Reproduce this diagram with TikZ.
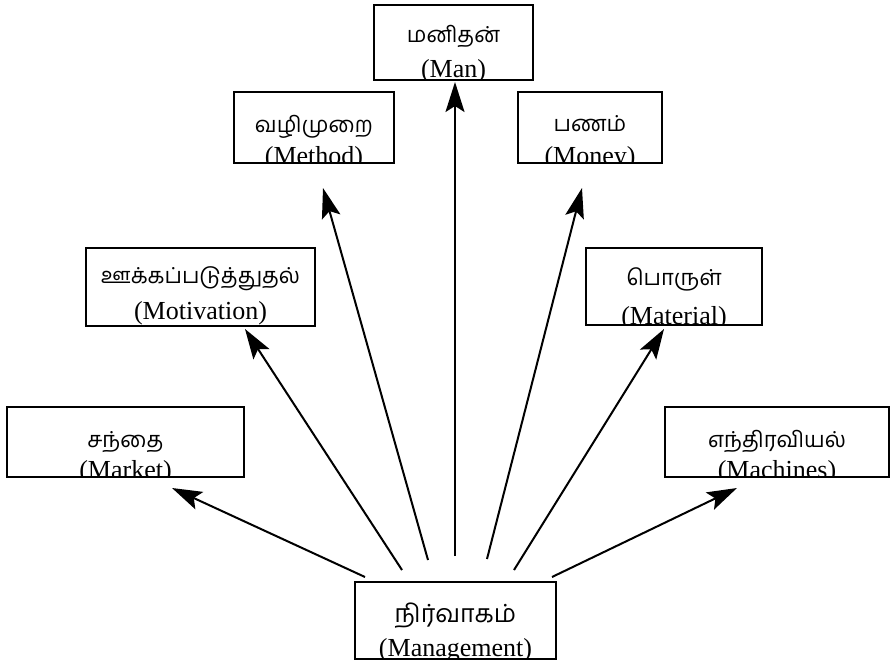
\documentclass[tikz,border=0pt]{standalone}
\usepackage{fontspec}
\setmainfont{Liberation Serif}
\newfontfamily\tamilfont[Script=Tamil]{Hind Madurai}
\usetikzlibrary{arrows.meta}

% name, x1, y1, x2, y2, Tamil baseline offset, English baseline offset, Tamil line, English line
\newcommand\labbox[9]{%
  \node[box, minimum width={#4pt-#2pt}, minimum height={#5pt-#3pt},
        path picture={%
          \node[ta] at ([yshift=-#6pt]path picture bounding box.north) {#8};
          \node[en] at ([yshift=-#7pt]path picture bounding box.north) {#9};
        }] (#1) at ({(#2+#4)/2},{(#3+#5)/2}) {};%
}

\begin{document}
\begin{tikzpicture}[x=1pt,y=-1pt,
  box/.style={draw, line width=2.2pt, inner sep=0pt, fill=white},
  arr/.style={line width=2pt, -{Stealth[length=30pt,width=19pt,inset=6pt]}},
  ta/.style={font=\tamilfont\fontsize{22}{22}\selectfont, inner sep=0pt, anchor=base},
  en/.style={font=\fontsize{26}{26}\selectfont, inner sep=0pt, anchor=base},
]
\useasboundingbox (0,0) rectangle (891,664);

\labbox{man}{374}{5}{533}{80}{37}{72}{மனிதன்}{(Man)}
\labbox{method}{234}{92}{394}{163}{40}{72}{வழிமுறை}{(Method)}
\labbox{money}{518}{92}{662}{163}{39}{72}{பணம்}{(Money)}
\labbox{motiv}{86}{248}{315}{326}{35}{71}{ஊக்கப்படுத்துதல்}{(Motivation)}
\labbox{material}{586}{248}{762}{325}{37}{76}{பொருள்}{(Material)}
\labbox{market}{7}{407}{244}{477}{40}{71}{சந்தை}{(Market)}
\labbox{machines}{665}{407}{889}{477}{40}{71}{எந்திரவியல்}{(Machines)}
\labbox{mgmt}{355}{582}{556}{659}{40}{74}{\fontsize{25}{25}\selectfont நிர்வாகம்}{(Management)}

% connector ends just above the management box and just below each target
\coordinate (s1) at (365,577); \coordinate (t1) at (172,488);
\coordinate (s2) at (402,570); \coordinate (t2) at (245,329);
\coordinate (s3) at (428,560); \coordinate (t3) at (323,188);
\coordinate (s4) at (455,556); \coordinate (t4) at (455,82);
\coordinate (s5) at (487,559); \coordinate (t5) at (582,188);
\coordinate (s6) at (514,570); \coordinate (t6) at (664,329);
\coordinate (s7) at (552,577); \coordinate (t7) at (737,488);

\foreach \i in {1,...,7} { \draw[arr] (s\i) -- (t\i); }
\end{tikzpicture}
\end{document}
